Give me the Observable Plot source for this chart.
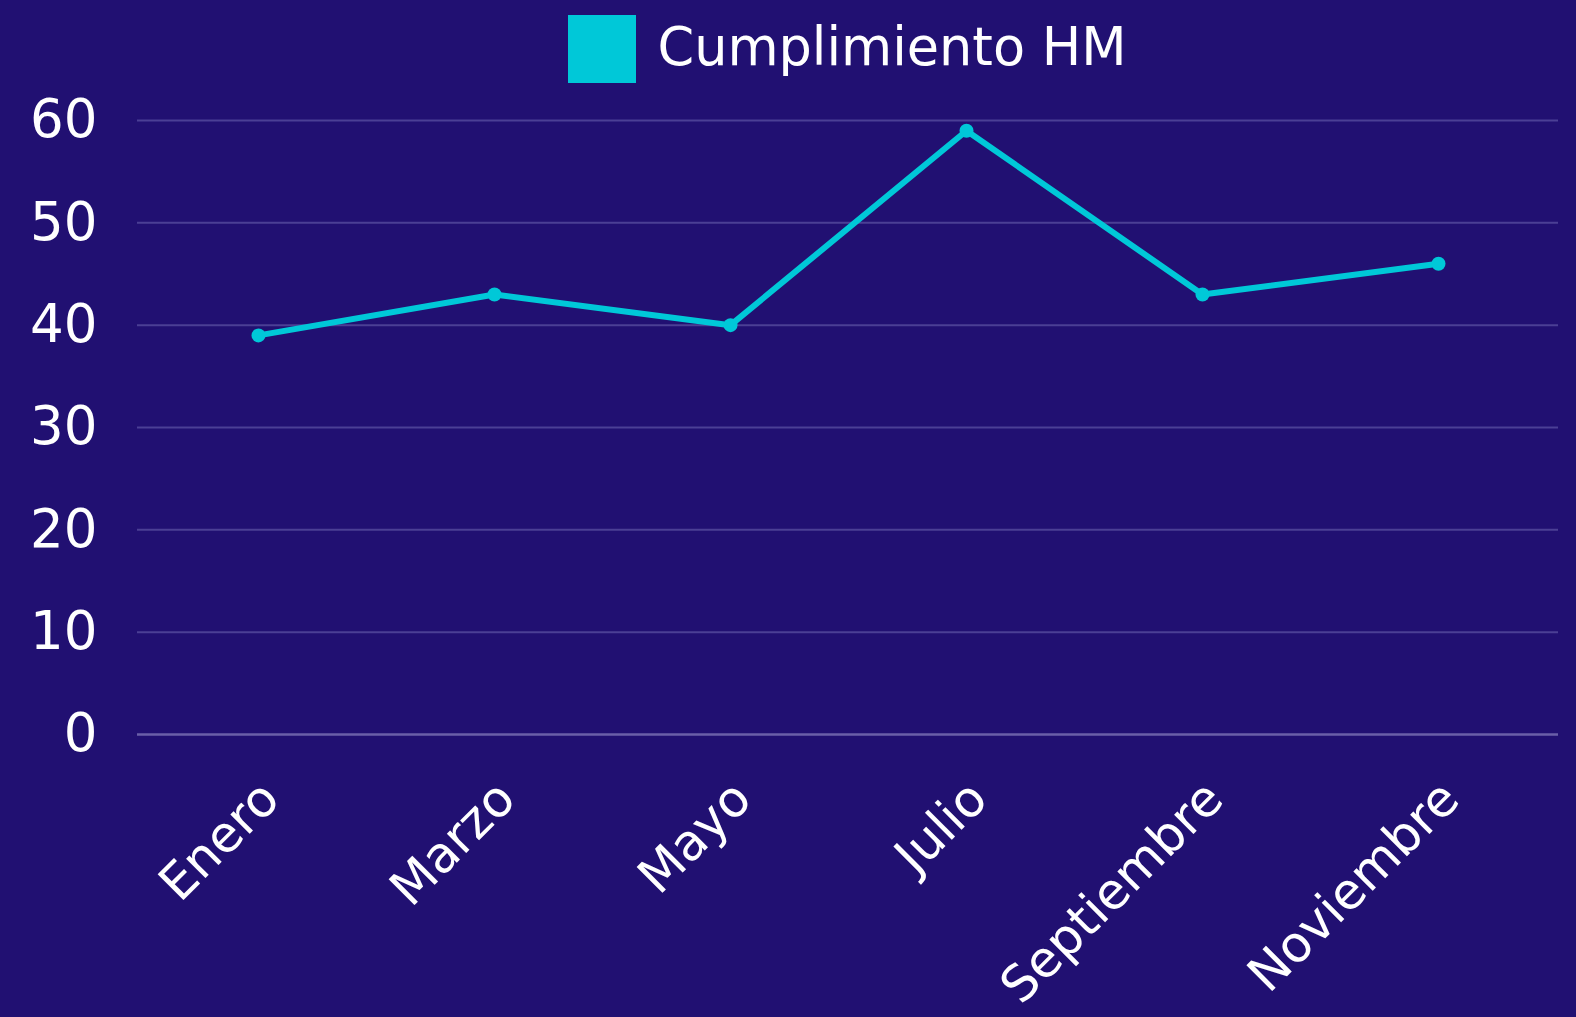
<!DOCTYPE html>
<html>
<head>
<meta charset="utf-8">
<script src="https://cdn.jsdelivr.net/npm/d3@7"></script>
<script src="https://cdn.jsdelivr.net/npm/@observablehq/plot@0.6"></script>
<style>
  html, body { margin: 0; padding: 0; background: #211072; width: 1576px; height: 1017px; overflow: hidden; }
  #legend { position: absolute; top: 0; left: 0; width: 1576px; box-sizing: border-box; height: 98px; padding-left: 137px; padding-right: 18px; display: flex; align-items: center; justify-content: center; font-family: "DejaVu Sans", sans-serif; font-size: 52.5px; color: #ffffff; }
  #legend .sw { width: 68px; height: 68px; background: #00C8D8; margin-right: 21px; }
  #legend span { margin-top: -6px; }
</style>
</head>
<body>
<div id="chart"></div>
<div id="legend"><div class="sw"></div><span>Cumplimiento HM</span></div>
<script>
const months = ["Enero", "Marzo", "Mayo", "Julio", "Septiembre", "Noviembre"];
const values = [39, 43, 40, 59, 43, 46];
const yTicks = [0, 10, 20, 30, 40, 50, 60];
const seriesName = "Cumplimiento HM";

const data = months.map((m, i) => ({month: m, value: values[i], series: seriesName}));

const chart = Plot.plot({
  width: 1576,
  height: 1017,
  marginTop: 120,
  marginBottom: 283,
  marginLeft: 137,
  marginRight: 18,
  style: {background: "#211072", color: "#ffffff", fontFamily: "'DejaVu Sans', sans-serif"},
  x: {domain: months, type: "band", padding: 0},
  y: {domain: [0, 60]},
  marks: [
    Plot.gridY(yTicks.filter(d => d !== 0), {stroke: "#4B3F95", strokeOpacity: 1, strokeWidth: 2}),
    Plot.ruleY([0], {stroke: "#6A5FA8", strokeWidth: 2.5}),
    Plot.axisY(yTicks, {tickSize: 0, tickPadding: 40, fontSize: 53, fill: "#ffffff", label: null}),
    Plot.axisX({tickSize: 0, tickRotate: -45, fontSize: 50, fill: "#ffffff", label: null, dx: 12, dy: 44}),
    Plot.line(data, {x: "month", y: "value", stroke: "#00C8D8", strokeWidth: 6}),
    Plot.dot(data, {x: "month", y: "value", r: 7, fill: "#00C8D8", stroke: "none"})
  ]
});
document.getElementById("chart").appendChild(chart);
</script>
</body>
</html>
